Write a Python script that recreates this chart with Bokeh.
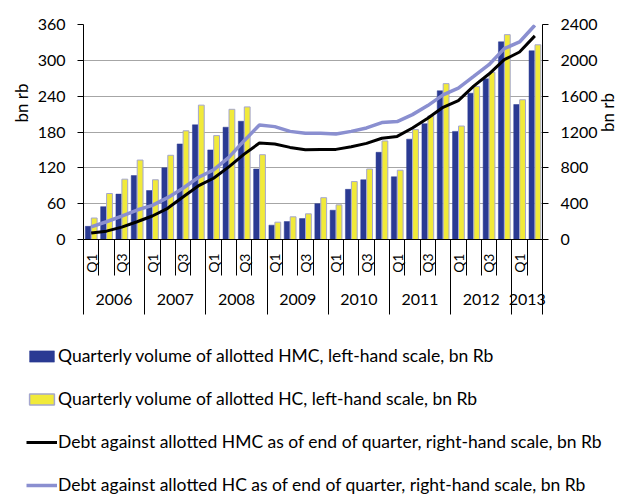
import math
from bokeh.plotting import figure
from bokeh.models import (ColumnDataSource, Range1d, LinearAxis, FixedTicker,
                          Legend, LegendItem, Title)
from bokeh.transform import dodge
from bokeh.embed import file_html
from bokeh.resources import INLINE

# ---------------- data ----------------
years = ["2006", "2007", "2008", "2009", "2010", "2011", "2012", "2013"]
quarter_names = ["Q1", "Q2", "Q3", "Q4"]
n_quarters = 30  # 2006 Q1 .. 2013 Q2

hmc_volume = [22, 55, 76, 107, 82, 120, 160, 192, 150, 188, 198, 118, 24, 30, 35,
              60, 49, 84, 100, 146, 105, 168, 194, 249, 181, 245, 269, 331, 226, 316]
hc_volume = [36, 77, 101, 133, 100, 141, 182, 225, 174, 218, 222, 142, 29, 38, 43,
             70, 58, 97, 118, 165, 116, 184, 207, 261, 190, 256, 280, 343, 234, 326]
hmc_debt = [72, 93, 138, 198, 262, 348, 475, 598, 684, 811, 953, 1077, 1066, 1028, 1002,
            1006, 1006, 1036, 1073, 1130, 1151, 1245, 1353, 1476, 1551, 1712, 1847, 2007, 2093, 2273]
hc_debt = [140, 198, 262, 329, 381, 467, 572, 692, 777, 916, 1103, 1278, 1260, 1207, 1185,
           1185, 1177, 1207, 1245, 1305, 1316, 1394, 1495, 1615, 1690, 1820, 1951, 2131, 2205, 2392]

left_ticks = [0, 60, 120, 180, 240, 300, 360]
right_ticks = [0, 400, 800, 1200, 1600, 2000, 2400]

legend_labels = [
    "Quarterly volume of allotted HMC, left-hand scale, bn Rb",
    "Quarterly volume of allotted HC, left-hand scale, bn Rb",
    "Debt against allotted HMC as of end of quarter, right-hand scale, bn Rb",
    "Debt against allotted HC as of end of quarter, right-hand scale, bn Rb",
]

# ---------------- derived ----------------
idx = list(range(n_quarters))
src = ColumnDataSource(dict(x=idx, hmc=hmc_volume, hc=hc_volume,
                            dhmc=hmc_debt, dhc=hc_debt))

q_ticks = [float(i) for i in idx if i % 4 in (0, 2)]
q_overrides = {float(i): quarter_names[i % 4] for i in idx if i % 4 in (0, 2)}
q_bounds = [i - 0.5 for i in range(n_quarters + 1)]
year_centers = []
year_bounds = []
for k, y in enumerate(years):
    start = 4 * k
    end = min(4 * k + 4, n_quarters)
    year_centers.append((start + end - 1) / 2.0)
    year_bounds.append(start - 0.5)
year_bounds.append(n_quarters - 0.5)
year_overrides = {c: y for c, y in zip(year_centers, years)}

FONT = "Lato"
BLUE = "#2a3a93"
YELLOW = "#f1ea3a"
YEL_EDGE = "#a4a6cf"
LAV = "#8a8fd0"

# ---------------- chart ----------------
p = figure(width=631, height=330, output_backend="svg", toolbar_location=None,
           x_range=Range1d(-0.5, n_quarters - 0.5), y_range=Range1d(0, 360),
           min_border_left=83, min_border_right=83, min_border_top=24,
           min_border_bottom=91)
p.outline_line_color = None
p.extra_y_ranges = {"right": Range1d(0, 2400)}

bar_hmc = p.vbar(x=dodge("x", -0.2, range=p.x_range), top="hmc", width=0.36,
                 source=src, fill_color=BLUE, line_color=BLUE, line_width=0.5)
bar_hc = p.vbar(x=dodge("x", 0.2, range=p.x_range), top="hc", width=0.38,
                source=src, fill_color=YELLOW, line_color=YEL_EDGE, line_width=1)
ln_hc = p.line(x="x", y="dhc", source=src, y_range_name="right",
               line_color=LAV, line_width=3.5)
ln_hmc = p.line(x="x", y="dhmc", source=src, y_range_name="right",
                line_color="black", line_width=3)

p.xgrid.visible = False
p.ygrid.ticker = FixedTicker(ticks=left_ticks)
p.ygrid.grid_line_color = "#a6a6a6"
p.ygrid.grid_line_width = 1

ya = p.yaxis[0]
ya.ticker = FixedTicker(ticks=left_ticks)

right_axis = LinearAxis(y_range_name="right", ticker=FixedTicker(ticks=right_ticks),
                        axis_label="bn rb")
p.add_layout(right_axis, "right")

for ax in (ya, right_axis):
    ax.axis_line_color = "black"
    ax.major_tick_line_color = "black"
    ax.major_tick_out = 6
    ax.major_tick_in = 0
    ax.minor_tick_line_color = None
    ax.major_label_standoff = 12
    ax.major_label_text_font = FONT
    ax.major_label_text_font_size = "16px"
    ax.major_label_text_color = "black"
    ax.axis_label_text_font = FONT
    ax.axis_label_text_font_size = "17px"
    ax.axis_label_text_font_style = "normal"
    ax.axis_label_text_color = "black"
right_axis.axis_label_standoff = 7
right_axis.axis_label_orientation = math.pi / 2

# left-hand unit label, sitting above the middle of the axis as in the original
left_title = Title(text="bn rb", align="left", offset=117, standoff=6,
                   text_font=FONT, text_font_size="17px", text_font_style="normal",
                   text_color="black")
p.add_layout(left_title, "left")

# quarter axis
xa = p.xaxis[0]
xa.ticker = FixedTicker(ticks=q_ticks, minor_ticks=q_bounds)
xa.major_label_overrides = q_overrides
xa.major_label_orientation = math.pi / 2
xa.major_tick_out = 0
xa.major_tick_in = 0
xa.major_tick_line_color = None
xa.minor_tick_out = 36
xa.minor_tick_in = 0
xa.minor_tick_line_color = "black"
xa.axis_line_color = "black"
xa.major_label_standoff = -22
xa.major_label_text_font = FONT
xa.major_label_text_font_size = "14px"
xa.major_label_text_color = "black"

# year axis
year_axis = LinearAxis(ticker=FixedTicker(ticks=year_centers, minor_ticks=year_bounds))
year_axis.major_label_overrides = year_overrides
year_axis.axis_line_color = None
year_axis.major_tick_line_color = None
year_axis.major_tick_out = 0
year_axis.major_tick_in = 0
year_axis.minor_tick_in = 34
year_axis.minor_tick_out = 39
year_axis.minor_tick_line_color = "black"
year_axis.major_label_standoff = -21
year_axis.major_label_text_font = FONT
year_axis.major_label_text_font_size = "16px"
year_axis.major_label_text_color = "black"
p.add_layout(year_axis, "below")

# ---------------- legend panel (separate root, below the chart) ----------------
q = figure(width=631, height=164, output_backend="svg", toolbar_location=None,
           x_range=Range1d(-0.5, n_quarters - 0.5), y_range=Range1d(0, 360),
           x_axis_type=None, y_axis_type=None,
           min_border_left=0, min_border_right=0, min_border_top=0, min_border_bottom=0)
q.outline_line_color = None
q.xgrid.visible = False
q.ygrid.visible = False
# hidden legend proxies with the chart's styles; only their legend glyphs show
lg_hmc = q.vbar(x="x", top="hmc", width=0.36, source=src, visible=False,
                fill_color=BLUE, line_color=BLUE, line_width=0.5)
lg_hc = q.vbar(x="x", top="hc", width=0.38, source=src, visible=False,
               fill_color=YELLOW, line_color=YEL_EDGE, line_width=1.5)
lg_dhmc = q.line(x="x", y="dhmc", source=src, visible=False,
                 line_color="black", line_width=3)
lg_dhc = q.line(x="x", y="dhc", source=src, visible=False,
                line_color=LAV, line_width=3.5)

legend = Legend(items=[
    LegendItem(label=legend_labels[0], renderers=[lg_hmc]),
    LegendItem(label=legend_labels[1], renderers=[lg_hc]),
    LegendItem(label=legend_labels[2], renderers=[lg_dhmc]),
    LegendItem(label=legend_labels[3], renderers=[lg_dhc]),
], location=(26, -1), orientation="vertical", glyph_width=31, glyph_height=14,
   label_height=21, spacing=22, padding=0, margin=0, label_standoff=1,
   border_line_color=None, background_fill_alpha=0,
   inactive_fill_alpha=0,
   label_text_font=FONT, label_text_font_size="17.5px", label_text_color="black")
q.add_layout(legend, "center")

open("out.html", "w").write(file_html([p, q], INLINE))
